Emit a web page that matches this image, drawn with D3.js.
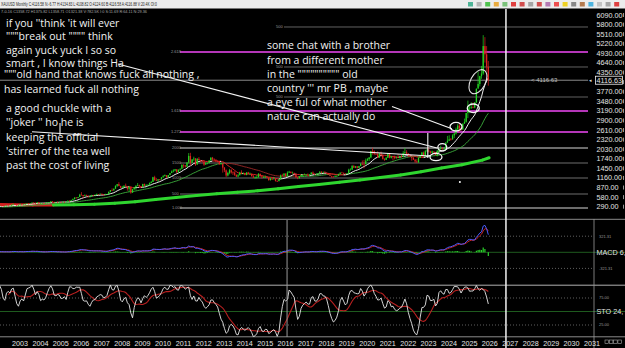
<!DOCTYPE html>
<html>
<head>
<meta charset="utf-8">
<script src="https://cdn.jsdelivr.net/npm/d3@7"></script>
<style>
body{margin:0;background:#000;overflow:hidden}
svg{display:block;font-family:"Liberation Sans",Arial,sans-serif}
.note{font-family:"Open Sans",sans-serif;font-size:10.5px;fill:#f2f2f2}
.axis{font-size:7.2px;fill:#e4e4e4}
.tiny{font-size:4px;fill:#9a9a9a}
</style>
</head>
<body>
<svg id="chart" width="625" height="348"></svg>
<script>
//Monthly XAUUSD bars, Jan 2000 .. Apr 2026 (rough)
const firstYear = 2000;
const closes = [
  /*2000*/ 283,293,279,276,272,288,276,277,273,264,270,273,
  /*2001*/ 266,267,258,264,266,270,265,272,291,279,274,277,
  /*2002*/ 282,296,302,309,326,318,304,312,324,317,319,348,
  /*2003*/ 368,347,336,337,364,346,355,375,385,384,398,416,
  /*2004*/ 403,397,424,388,395,395,391,408,416,428,453,438,
  /*2005*/ 422,435,428,435,417,437,429,433,473,471,495,517,
  /*2006*/ 569,556,582,654,643,614,633,623,599,604,646,632,
  /*2007*/ 650,665,662,680,656,650,665,673,743,790,783,834,
  /*2008*/ 923,972,917,865,886,926,913,833,880,718,816,882,
  /*2009*/ 928,942,916,883,979,927,955,955,1001,1040,1182,1096,
  /*2010*/ 1081,1118,1113,1179,1212,1244,1181,1248,1307,1357,1384,1421,
  /*2011*/ 1332,1411,1439,1556,1536,1500,1628,1826,1620,1722,1746,1565,
  /*2012*/ 1737,1697,1669,1664,1561,1604,1614,1692,1773,1719,1712,1675,
  /*2013*/ 1663,1578,1595,1472,1393,1234,1312,1395,1327,1323,1253,1202,
  /*2014*/ 1240,1326,1284,1296,1250,1327,1282,1287,1210,1171,1182,1184,
  /*2015*/ 1283,1212,1183,1183,1190,1172,1095,1134,1115,1142,1065,1061,
  /*2016*/ 1118,1238,1233,1292,1215,1321,1351,1309,1316,1276,1173,1152,
  /*2017*/ 1211,1249,1249,1268,1269,1242,1269,1322,1280,1271,1275,1303,
  /*2018*/ 1345,1318,1325,1316,1299,1253,1224,1201,1192,1215,1222,1282,
  /*2019*/ 1321,1313,1292,1284,1305,1409,1414,1520,1472,1513,1464,1517,
  /*2020*/ 1589,1585,1577,1686,1730,1781,1975,1968,1886,1879,1776,1898,
  /*2021*/ 1848,1734,1708,1769,1906,1770,1814,1813,1757,1783,1775,1829,
  /*2022*/ 1796,1909,1937,1896,1837,1807,1766,1711,1660,1633,1768,1824,
  /*2023*/ 1928,1827,1969,1990,1962,1919,1965,1940,1849,1983,2036,2063,
  /*2024*/ 2039,2044,2230,2286,2327,2326,2447,2503,2635,2744,2657,2625,
  /*2025*/ 2798,2858,3124,3289,3289,3303,3290,3448,3858,4002,4240,4320,
  /*2026*/ 5150,4900,4520,4116.58
];
const highs = [
  /*2000*/ 291,313,294,287,279,295,292,280,276,274,272,275,
  /*2001*/ 272,268,268,268,294,274,271,277,293,294,279,280,
  /*2002*/ 290,300,303,310,328,330,322,316,326,324,323,350,
  /*2003*/ 383,389,352,340,376,372,367,377,390,395,400,417,
  /*2004*/ 427,419,430,428,396,405,409,416,419,431,456,457,
  /*2005*/ 439,439,448,437,436,443,439,446,474,479,497,540,
  /*2006*/ 571,574,585,680,730,643,663,654,627,609,647,645,
  /*2007*/ 655,690,670,693,690,674,682,678,744,795,845,841,
  /*2008*/ 934,975,1033,925,920,935,989,915,919,907,832,887,
  /*2009*/ 932,1006,957,919,981,990,960,962,1023,1070,1195,1226,
  /*2010*/ 1162,1128,1127,1181,1248,1265,1244,1248,1307,1388,1424,1431,
  /*2011*/ 1424,1411,1447,1575,1577,1553,1632,1912,1920,1726,1803,1763,
  /*2012*/ 1764,1791,1709,1677,1670,1640,1629,1692,1787,1796,1755,1722,
  /*2013*/ 1694,1681,1616,1598,1487,1416,1348,1434,1425,1361,1362,1268,
  /*2014*/ 1280,1345,1392,1331,1315,1332,1345,1324,1291,1255,1207,1238,
  /*2015*/ 1307,1293,1220,1224,1232,1205,1175,1170,1157,1191,1143,1088,
  /*2016*/ 1128,1263,1287,1304,1304,1362,1375,1347,1352,1314,1306,1181,
  /*2017*/ 1220,1264,1261,1295,1270,1296,1270,1331,1357,1306,1299,1306,
  /*2018*/ 1366,1362,1356,1365,1320,1309,1264,1220,1214,1243,1237,1284,
  /*2019*/ 1326,1346,1324,1300,1306,1439,1453,1555,1557,1518,1516,1525,
  /*2020*/ 1611,1689,1704,1747,1765,1789,1981,2075,1992,1933,1966,1906,
  /*2021*/ 1959,1871,1755,1798,1916,1916,1832,1834,1836,1814,1877,1831,
  /*2022*/ 1853,1974,2070,1998,1910,1880,1789,1807,1735,1730,1786,1833,
  /*2023*/ 1949,1960,2009,2048,2079,1985,1987,1949,1947,2009,2052,2135,
  /*2024*/ 2089,2055,2236,2431,2450,2369,2483,2531,2685,2790,2801,2726,
  /*2025*/ 2817,2956,3128,3500,3365,3452,3439,3454,3870,4381,4250,4550,
  /*2026*/ 5480,5420,5150,4700
];
const lows = [
  /*2000*/ 279,283,277,272,269,271,274,268,268,263,264,267,
  /*2001*/ 255,256,255,255,263,264,262,264,271,275,268,272,
  /*2002*/ 277,282,288,300,307,315,303,301,311,311,315,317,
  /*2003*/ 343,346,320,320,336,337,343,355,371,372,380,397,
  /*2004*/ 399,391,390,383,372,387,386,386,399,410,423,431,
  /*2005*/ 418,412,425,422,414,414,418,428,431,458,458,488,
  /*2006*/ 513,538,545,583,636,543,606,614,561,560,604,606,
  /*2007*/ 602,645,637,664,651,641,649,649,669,724,776,776,
  /*2008*/ 834,887,906,847,853,862,899,773,740,681,705,803,
  /*2009*/ 801,918,866,865,883,907,909,930,940,1005,1042,1075,
  /*2010*/ 1072,1045,1088,1122,1166,1215,1157,1175,1243,1315,1330,1357,
  /*2011*/ 1308,1327,1380,1421,1462,1478,1478,1600,1535,1604,1668,1523,
  /*2012*/ 1563,1690,1627,1625,1527,1564,1572,1599,1686,1693,1672,1635,
  /*2013*/ 1626,1555,1565,1321,1338,1180,1207,1270,1290,1251,1221,1187,
  /*2014*/ 1182,1241,1277,1268,1240,1240,1281,1273,1207,1162,1131,1142,
  /*2015*/ 1167,1198,1142,1170,1170,1162,1077,1080,1098,1136,1053,1046,
  /*2016*/ 1061,1111,1208,1208,1200,1208,1311,1301,1303,1241,1171,1122,
  /*2017*/ 1146,1191,1195,1241,1214,1237,1205,1265,1275,1261,1264,1236,
  /*2018*/ 1303,1307,1303,1301,1282,1250,1211,1160,1180,1183,1196,1221,
  /*2019*/ 1276,1311,1281,1266,1267,1301,1382,1400,1460,1459,1446,1454,
  /*2020*/ 1517,1548,1451,1567,1670,1671,1757,1863,1849,1859,1764,1775,
  /*2021*/ 1802,1717,1677,1705,1766,1751,1750,1688,1722,1746,1759,1753,
  /*2022*/ 1780,1781,1890,1872,1787,1805,1681,1709,1615,1617,1616,1765,
  /*2023*/ 1823,1805,1809,1949,1933,1893,1902,1884,1846,1810,1931,2016,
  /*2024*/ 2002,1985,2038,2228,2277,2293,2319,2364,2472,2604,2537,2583,
  /*2025*/ 2615,2833,2833,2970,3121,3247,3268,3268,3430,3886,3930,4160,
  /*2026*/ 4280,4650,4380,3950
];

const longMaYears  = [2002,2003,2004,2005,2006,2007,2008,2009,2010,2011,2012,2013,2014,2015,2016,2017,2018,2019,2020,2021,2022,2023,2024,2025,2026,2026.33];
const longMaValues = [362,352,344,340,348,365,395,440,505,570,630,685,730,770,830,900,965,1030,1100,1175,1250,1350,1460,1560,1700,1770];

//axis labels
const priceTicks = [6090,5800,5510,5220,4930,4640,4350,4060,3770,3480,3190,2900,2610,2320,2030,1740,1450,1160,870,580,290];
const yearTicks = [2003,2004,2005,2006,2007,2008,2009,2010,2011,2012,2013,2014,2015,2016,2017,2018,2019,2020,2021,2022,2023,2024,2025,2026,2027,2028,2029,2030,2031];
const lastPrice = 4116.63;

//drawn levels (fib tool + old inset grid)
const fibPrices = [4970, 3185, 2550];
const fibLabels = ['2.618', '1.618', '1.272'];
const boxPrices = [2066, 1612, 1158, 674, 250];
const boxLabels = ['2000', '1500', '1000', '500', '1.000'];
const upperPrices = [5727, 4517, 3609];
const macdLevels = [321.31, -321.31];
const stoLevels = [75, 25];

//hand drawn circles: [year, price]
const circles = [[2023.73, 1793], [2024.04, 2087], [2024.71, 2710], [2025.555, 3267]];
const bigCircle = [2025.785, 4072];

const headerText = 'XAUUSD Monthly C:4116.58 N:-6.77 H:4134.83 L:4108.82 O:4124.60 B:4116.58 A:4116.88 V:20.4K OI:0';
const cursorText = '7-0-16 C1358.72 H1375.82 L1358.71 O1321.38 V:782.5K I:0 S:11.69 R:64.11 N:29.36';

const leftNotes = [
  "if you ''think 'it will ever",
  '"""break out """" think',
  'again yuck yuck I so so',
  'smart , I know things Ha'
];
const leftNotes2 = ['"""old hand that knows fuck all nothing ,', 'has learned fuck all nothing'];
const leftNotes3 = ['a good chuckle with a', "''joker '' ho  he is", 'keeping the official', "'stirrer of the tea well", 'past the cost of living'];
const rightNotes = [
  'some chat with a brother',
  'from a different mother',
  'in the """""""""" old',
  "country ''' mr PB , maybe",
  'a eye ful of what mother',
  'nature can actually do'
];

//----------------------------------------------------------------
const svg = d3.select('#chart');

const x = d3.scaleLinear().domain([2003, 2031]).range([12.5, 584.5]);
const y = d3.scaleLinear().domain([290, 6090]).range([206.7, 15]);
const yMacd = d3.scaleLinear().domain([-321.31, 321.31]).range([268.4, 236.2]);
const ySto = d3.scaleLinear().domain([0, 100]).range([338.5, 284.5]);

const bars = closes.map((c, i) => ({
  t: firstYear + (i + 0.5) / 12,
  o: i ? closes[i - 1] : c,
  h: highs[i],
  l: lows[i],
  c: c
}));

//indicator helpers
function sma(vals, n){
  return vals.map((v, i) => {
    if (i < n - 1) return null;
    const win = vals.slice(i - n + 1, i + 1);
    if (win.some(w => w == null)) return null;
    return d3.mean(win);
  });
}
function ema(vals, n){
  const k = 2 / (n + 1);
  const out = [];
  vals.forEach((v, i) => out.push(i === 0 ? v : v * k + out[i - 1] * (1 - k)));
  return out;
}

const defs = svg.append('defs');
defs.append('clipPath').attr('id', 'clip-main')
  .append('rect').attr('x', 0).attr('y', 9).attr('width', 588).attr('height', 209);
defs.append('clipPath').attr('id', 'clip-low')
  .append('rect').attr('x', 0).attr('y', 220).attr('width', 593).attr('height', 117);

svg.append('rect').attr('width', 625).attr('height', 348).attr('fill', '#000');

//header bar
svg.append('rect').attr('width', 625).attr('height', 8.5).attr('fill', '#ececec');
svg.append('text').attr('x', 1).attr('y', 6.3).attr('font-size', 4.6).attr('fill', '#222')
  .attr('textLength', 156).attr('lengthAdjust', 'spacingAndGlyphs').text(headerText);
const iconColors = ['#3a8','#aaa','#3b3','#e9a020','#6b6','#d22','#c33','#999','#c33','#a6a','#e33','#ec0','#777','#a63','#3ad','#bbb','#999','#d22'];
svg.append('g').selectAll('rect').data(iconColors).join('rect')
  .attr('x', (d, i) => 468 + i * 8.6).attr('y', 2).attr('width', 5).attr('height', 4.5)
  .attr('fill', d => d).attr('opacity', 0.85);
svg.append('text').attr('x', 1).attr('y', 12.8).attr('font-size', 4.2).attr('fill', '#a8a8a8')
  .attr('textLength', 146).attr('lengthAdjust', 'spacingAndGlyphs').text(cursorText);

//---------------- main price panel ----------------
const grid = svg.append('g');

//old inset grid lines
grid.selectAll('.up').data(upperPrices).join('line')
  .attr('x1', 284).attr('x2', 588)
  .attr('y1', d => y(d)).attr('y2', d => y(d))
  .attr('stroke', '#7a7a7a').attr('stroke-width', 0.8);
grid.selectAll('.upl').data(upperPrices).join('text').attr('class', 'tiny')
  .attr('x', 276).attr('y', d => y(d) + 1.3).text('500');

grid.selectAll('.box').data(boxPrices).join('line')
  .attr('x1', 180).attr('x2', 588)
  .attr('y1', d => y(d)).attr('y2', d => y(d))
  .attr('stroke', (d, i) => (i === 0 || i === 4) ? '#d8d8d8' : '#8a8a8a')
  .attr('stroke-width', (d, i) => (i === 0 || i === 4) ? 1.2 : 0.8);
grid.selectAll('.boxl').data(boxPrices).join('text').attr('class', 'tiny')
  .attr('x', 172).attr('y', d => y(d) + 1.3).text((d, i) => boxLabels[i]);

//fib levels
grid.selectAll('.fib').data(fibPrices).join('line')
  .attr('x1', 180).attr('x2', 588)
  .attr('y1', d => y(d)).attr('y2', d => y(d))
  .attr('stroke', '#b436b8').attr('stroke-width', 2);
grid.selectAll('.fibl').data(fibPrices).join('text').attr('class', 'tiny')
  .attr('x', 171).attr('y', d => y(d) + 1.3).text((d, i) => fibLabels[i]);

//last price line
grid.append('line').attr('x1', 0).attr('x2', 588)
  .attr('y1', y(lastPrice)).attr('y2', y(lastPrice))
  .attr('stroke', '#9a9a9a').attr('stroke-width', 0.9);
grid.append('text').attr('x', 531).attr('y', y(lastPrice) + 2).attr('font-size', 6)
  .attr('fill', '#bdbdbd').text('< ' + lastPrice.toFixed(2));

const main = svg.append('g').attr('clip-path', 'url(#clip-main)');

//long average, red while falling
const longPts = longMaYears.map((t, i) => ({t: t, v: longMaValues[i]}));
main.append('g').selectAll('line').data(longPts.slice(1)).join('line')
  .attr('x1', (d, i) => x(longPts[i].t)).attr('y1', (d, i) => y(longPts[i].v))
  .attr('x2', d => x(d.t)).attr('y2', d => y(d.v))
  .attr('stroke', (d, i) => d.v >= longPts[i].v ? '#2fd62f' : '#d42020')
  .attr('stroke-width', 3).attr('stroke-linecap', 'round');

//moving averages coloured by slope
function drawAvg(vals, up, down, w){
  const segs = [];
  for (let i = 1; i < vals.length; i++){
    if (vals[i] != null && vals[i - 1] != null)
      segs.push({t0: bars[i - 1].t, t1: bars[i].t, v0: vals[i - 1], v1: vals[i]});
  }
  main.append('g').selectAll('line').data(segs).join('line')
    .attr('x1', d => x(d.t0)).attr('y1', d => y(d.v0))
    .attr('x2', d => x(d.t1)).attr('y2', d => y(d.v1))
    .attr('stroke', d => d.v1 >= d.v0 ? up : down)
    .attr('stroke-width', w);
}
drawAvg(sma(closes, 30), '#3cae3c', '#a02828', 0.9);
drawAvg(sma(closes, 10), '#f0f0f0', '#d02424', 1);

//candles
const upCol = '#22d622', dnCol = '#e02020';
main.append('g').selectAll('line').data(bars).join('line')
  .attr('x1', d => x(d.t)).attr('x2', d => x(d.t))
  .attr('y1', d => y(d.h)).attr('y2', d => y(d.l))
  .attr('stroke', d => d.c >= d.o ? upCol : dnCol).attr('stroke-width', 0.7);
main.append('g').selectAll('rect').data(bars).join('rect')
  .attr('x', d => x(d.t) - 0.65).attr('width', 1.3)
  .attr('y', d => y(Math.max(d.o, d.c)))
  .attr('height', d => Math.max(0.7, Math.abs(y(d.o) - y(d.c))))
  .attr('fill', d => d.c >= d.o ? upCol : dnCol);

//right price axis (the tick hidden under the last price box is skipped)
const shownTicks = priceTicks.filter(d => Math.abs(d - lastPrice) > 100);
const axisG = svg.append('g');
axisG.selectAll('text').data(shownTicks).join('text').attr('class', 'axis')
  .attr('x', 596.5).attr('y', d => y(d)).attr('dy', '0.35em')
  .text(d => d.toFixed(2));
axisG.selectAll('line').data(priceTicks).join('line')
  .attr('x1', 623.5).attr('x2', 623.5)
  .attr('y1', d => y(d) - 2).attr('y2', d => y(d) + 2)
  .attr('stroke', '#bbb').attr('stroke-width', 0.8);
axisG.append('rect').attr('x', 595.5).attr('y', y(lastPrice) - 4).attr('width', 27).attr('height', 8)
  .attr('fill', '#000').attr('stroke', '#f0f0f0').attr('stroke-width', 0.8);
axisG.append('text').attr('class', 'axis').attr('x', 596.5).attr('y', y(lastPrice)).attr('dy', '0.35em')
  .attr('fill', '#fff').text(lastPrice.toFixed(2));
axisG.append('text').attr('x', 589).attr('y', y(lastPrice) + 1.8).attr('font-size', 5)
  .attr('fill', '#ddd').text('\u25C2');

//---------------- MACD + STO panels ----------------
const low = svg.append('g');
low.selectAll('.sep').data([219.3, 285.2, 336.8]).join('line')
  .attr('x1', 0).attr('x2', 625).attr('y1', d => d).attr('y2', d => d)
  .attr('stroke', (d, i) => i === 1 ? '#b0b0b0' : '#8a8a8a').attr('stroke-width', 1);

low.selectAll('.md').data(macdLevels).join('line')
  .attr('x1', 0).attr('x2', 593).attr('y1', d => yMacd(d)).attr('y2', d => yMacd(d))
  .attr('stroke', '#777').attr('stroke-dasharray', '1,2').attr('stroke-width', 0.8);
low.selectAll('.sd').data(stoLevels).join('line')
  .attr('x1', 0).attr('x2', 593).attr('y1', d => ySto(d)).attr('y2', d => ySto(d))
  .attr('stroke', '#777').attr('stroke-dasharray', '1,2').attr('stroke-width', 0.8);
low.append('line').attr('x1', 0).attr('x2', 625).attr('y1', yMacd(0)).attr('y2', yMacd(0))
  .attr('stroke', '#1e5a1e').attr('stroke-width', 1);
low.append('line').attr('x1', 0).attr('x2', 625).attr('y1', ySto(50)).attr('y2', ySto(50))
  .attr('stroke', '#1e5a1e').attr('stroke-width', 1);

low.selectAll('.mdl').data(macdLevels).join('text').attr('class', 'tiny')
  .attr('x', 599).attr('y', d => yMacd(d) + 1.3).text(d => d.toFixed(2));
low.selectAll('.sdl').data(stoLevels).join('text').attr('class', 'tiny')
  .attr('x', 599).attr('y', d => ySto(d) + 1.3).text(d => d.toFixed(2));
low.append('text').attr('class', 'axis').attr('font-size', 6.6).attr('x', 596.5).attr('y', yMacd(0)).attr('dy', '0.35em').text('MACD 6,');
low.append('text').attr('class', 'axis').attr('font-size', 6.6).attr('x', 596.5).attr('y', ySto(50)).attr('dy', '0.35em').text('STO 24,');

//MACD
const fast = ema(closes, 6), slow = ema(closes, 13);
const macd = fast.map((f, i) => f - slow[i]);
const signal = ema(macd, 4);
const lowPlot = svg.append('g').attr('clip-path', 'url(#clip-low)');
lowPlot.append('g').selectAll('line').data(bars).join('line')
  .attr('x1', d => x(d.t)).attr('x2', d => x(d.t))
  .attr('y1', yMacd(0)).attr('y2', (d, i) => yMacd(macd[i] - signal[i]))
  .attr('stroke', '#2ad22a').attr('stroke-width', 1.2);
const macdLine = d3.line().x((d, i) => x(bars[i].t)).y(d => yMacd(d));
lowPlot.append('path').attr('d', macdLine(signal)).attr('fill', 'none').attr('stroke', '#c82222').attr('stroke-width', 1);
lowPlot.append('path').attr('d', macdLine(macd)).attr('fill', 'none').attr('stroke', '#4a5cff').attr('stroke-width', 1);

//stochastic
const rawK = closes.map((c, i) => {
  if (i < 23) return null;
  const hh = d3.max(highs.slice(i - 23, i + 1));
  const ll = d3.min(lows.slice(i - 23, i + 1));
  return (c - ll) / (hh - ll) * 100;
});
const kLine = sma(rawK, 2);
const dLine = sma(kLine, 10);
const stoLine = d3.line().defined(d => d != null).x((d, i) => x(bars[i].t)).y(d => ySto(d));
lowPlot.append('path').attr('d', stoLine(dLine)).attr('fill', 'none').attr('stroke', '#b82020').attr('stroke-width', 1.1);
lowPlot.append('path').attr('d', stoLine(kLine)).attr('fill', 'none').attr('stroke', '#e8e8e8').attr('stroke-width', 0.9);

//vertical lines: cursor, right edge, time marker
svg.append('line').attr('x1', x(2016.44)).attr('x2', x(2016.44)).attr('y1', 220).attr('y2', 337)
  .attr('stroke', '#9a9a9a').attr('stroke-width', 1);
svg.append('line').attr('x1', 594).attr('x2', 594).attr('y1', 219).attr('y2', 348)
  .attr('stroke', '#9a9a9a').attr('stroke-width', 0.8);
svg.append('line').attr('x1', x(2027.155)).attr('x2', x(2027.155)).attr('y1', 9).attr('y2', 348)
  .attr('stroke', '#f2f2f2').attr('stroke-width', 1.5);

//year labels
svg.append('g').selectAll('text').data(yearTicks).join('text').attr('class', 'axis')
  .attr('x', d => x(d) + 7.5).attr('y', 345.8).attr('text-anchor', 'middle')
  .attr('font-size', 7.5).text(d => d);
svg.append('g').selectAll('rect').data([0, 1, 2, 3]).join('rect')
  .attr('x', d => 605 + d * 4.3).attr('y', 340).attr('width', 3.6).attr('height', 3.4)
  .attr('fill', 'none').attr('stroke', '#aaa').attr('stroke-width', 0.6);

//---------------- hand drawn notes ----------------
const notes = svg.append('g');
notes.selectAll('.l1').data(leftNotes).join('text').attr('class', 'note')
  .attr('x', 6).attr('y', (d, i) => 26.8 + i * 13.5).text(d => d);
notes.selectAll('.l2').data(leftNotes2).join('text').attr('class', 'note')
  .attr('x', 4).attr('y', (d, i) => 78.3 + i * 14.4).text(d => d);
notes.selectAll('.l3').data(leftNotes3).join('text').attr('class', 'note')
  .attr('x', 6).attr('y', (d, i) => 111.7 + i * 14.4).text(d => d);
notes.selectAll('.r').data(rightNotes).join('text').attr('class', 'note')
  .attr('x', 267).attr('y', (d, i) => 49.3 + i * 14.2).text(d => d);

const pen = notes.append('g').attr('stroke', '#f4f4f4').attr('fill', 'none').attr('stroke-width', 1.1);
//pointer lines, from text to chart
pen.append('line').attr('x1', 118).attr('y1', 64).attr('x2', x(2023.78)).attr('y2', y(2066));
pen.append('line').attr('x1', 392).attr('y1', 106.5).attr('x2', x(2024.51)).attr('y2', y(2646));
pen.append('line').attr('x1', 32).attr('y1', 131.7).attr('x2', x(2023.44)).attr('y2', y(1824));
pen.append('line').attr('x1', 60).attr('y1', 123).attr('x2', 60).attr('y2', 135.5);
pen.append('line').attr('x1', x(2023.33)).attr('y1', y(2520)).attr('x2', x(2023.33)).attr('y2', y(1763));

pen.selectAll('ellipse').data(circles).join('ellipse')
  .attr('cx', d => x(d[0])).attr('cy', d => y(d[1]))
  .attr('rx', (d, i) => i === 1 ? 4.5 : 6).attr('ry', (d, i) => i < 2 ? 3.6 : 4.3)
  .attr('stroke-width', 1.3);
pen.append('ellipse').attr('cx', 0).attr('cy', 0).attr('rx', 7.5).attr('ry', 13)
  .attr('transform', `translate(${x(bigCircle[0])},${y(bigCircle[1])}) rotate(28)`)
  .attr('stroke-width', 1.1).attr('stroke', '#e0e0e0');

notes.append('circle').attr('cx', x(2024.9)).attr('cy', y(1037)).attr('r', 1).attr('fill', '#fff');
</script>
</body>
</html>
